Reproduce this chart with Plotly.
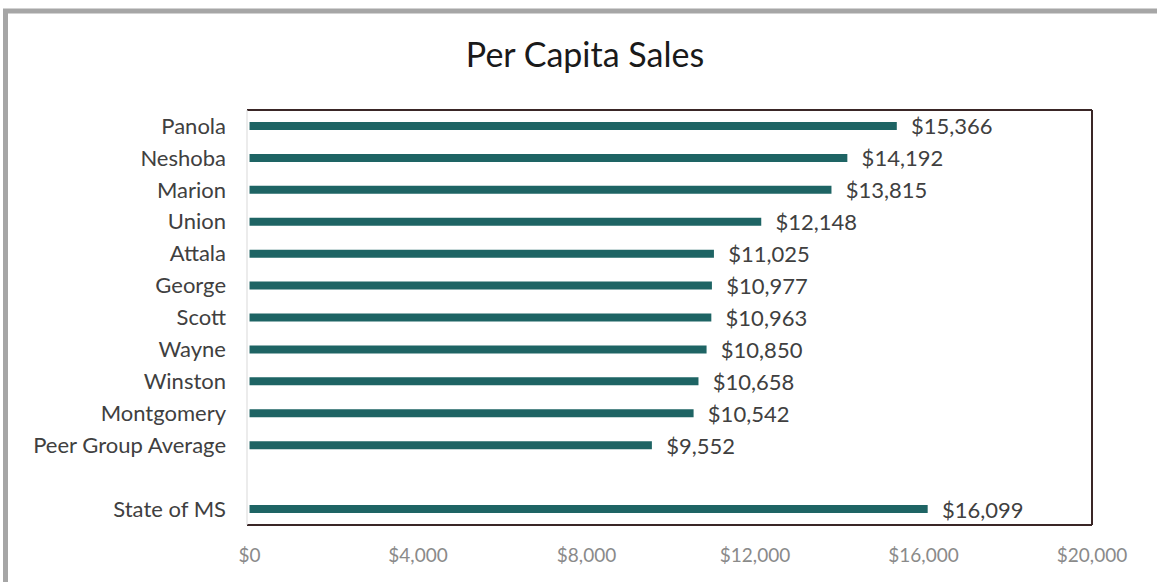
import plotly.graph_objects as go

categories = ["Panola", "Neshoba", "Marion", "Union", "Attala", "George", "Scott",
              "Wayne", "Winston", "Montgomery", "Peer Group Average", " ", "State of MS"]
values = [15366, 14192, 13815, 12148, 11025, 10977, 10963, 10850, 10658, 10542, 9552, None, 16099]
x_tickvals = [0, 4000, 8000, 12000, 16000, 20000]
x_ticktext = ["$0", "$4,000", "$8,000", "$12,000", "$16,000", "$20,000"]
title_text = "Per Capita Sales"

labels = ["" if v is None else "\u00a0\u00a0${:,}".format(v) for v in values]

FONT = "Lato, Open Sans, sans-serif"
fig = go.Figure(go.Bar(
    x=values, y=categories, orientation="h",
    marker=dict(color="#1e6464", line=dict(width=0)),
    width=0.25,
    text=labels, textposition="outside", cliponaxis=False, constraintext="none",
    textfont=dict(family=FONT, size=22, color="#404040"),
))

W, H = 1157, 582
L, R, T, B = 247, 1092, 110, 525
fig.update_layout(
    width=W, height=H,
    margin=dict(l=L, r=W - R, t=T, b=H - B),
    paper_bgcolor="white", plot_bgcolor="white",
    showlegend=False,
    title=dict(text=title_text, x=585 / W, xanchor="center", y=1 - 55 / H, yanchor="middle",
               yref="container", font=dict(family=FONT, size=34, color="#1a1a1a")),
    font=dict(family=FONT),
)
fig.update_xaxes(range=[-60, 20000], tickvals=x_tickvals, ticktext=x_ticktext,
                 showgrid=False, zeroline=False, showline=False,
                 tickfont=dict(family=FONT, size=19, color="#8a8a8a"),
                 ticks="", ticklabelstandoff=17)
fig.update_yaxes(categoryorder="array", categoryarray=categories, autorange="reversed",
                 showgrid=False, zeroline=False, showline=False,
                 tickfont=dict(family=FONT, size=22, color="#404040"),
                 ticks="", ticklabelstandoff=20)

pw, ph = R - L, B - T
def px(x):
    return (x - L) / pw
def py(y):
    return (B - y) / ph

dark = "#3a2626"
shapes = [
    dict(type="line", xref="paper", yref="paper", x0=0, x1=1, y0=1, y1=1, line=dict(color=dark, width=2)),
    dict(type="line", xref="paper", yref="paper", x0=1, x1=1, y0=0, y1=1, line=dict(color=dark, width=2)),
    dict(type="line", xref="paper", yref="paper", x0=0, x1=1, y0=0, y1=0, line=dict(color=dark, width=2)),
    dict(type="line", xref="paper", yref="paper", x0=0, x1=0, y0=0, y1=1, line=dict(color="#d9d9d9", width=1)),
    dict(type="rect", xref="paper", yref="paper", x0=px(5.5), x1=px(1300), y0=py(700), y1=py(11),
         line=dict(color="#a6a6a6", width=5), fillcolor="rgba(0,0,0,0)", layer="above"),
]
fig.update_layout(shapes=shapes)

fig.write_html("out.html", config={"displayModeBar": False},
               post_script="document.body.style.margin='0';")
